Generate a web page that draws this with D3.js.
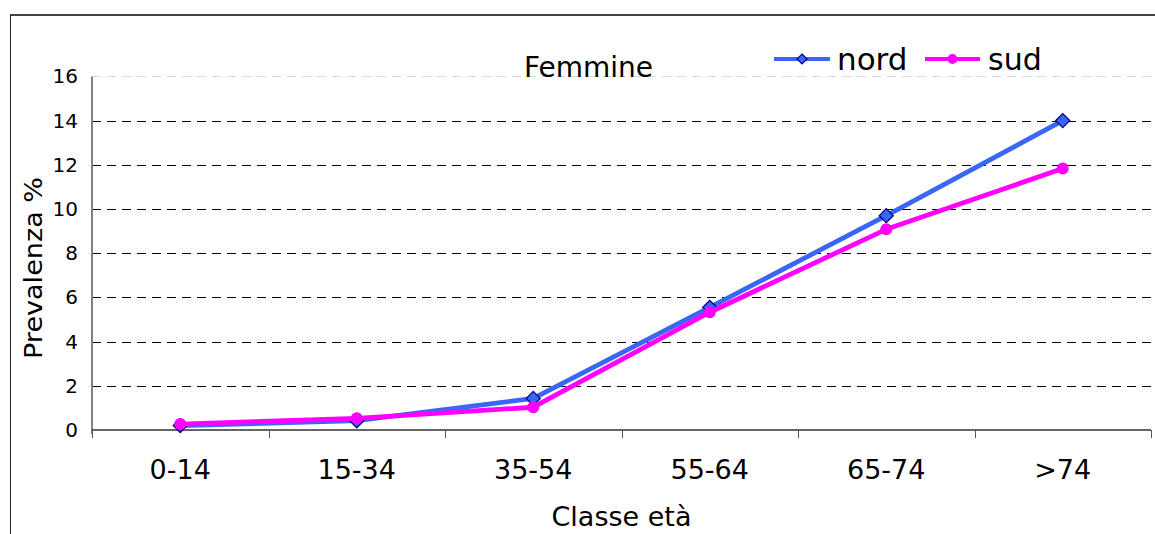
<!DOCTYPE html>
<html>
<head>
<meta charset="utf-8">
<script src="https://cdn.jsdelivr.net/npm/d3@7"></script>
<style>
  html, body { margin: 0; padding: 0; background: #fff; }
  svg { display: block; font-family: "DejaVu Sans", Verdana, sans-serif; }
</style>
</head>
<body>
<svg id="chart" width="1155" height="534"></svg>
<script>
const categories = ["0-14", "15-34", "35-54", "55-64", "65-74", ">74"];
const nordValues = [0.2, 0.42, 1.43, 5.55, 9.7, 14.0];
const sudValues  = [0.27, 0.53, 1.03, 5.33, 9.08, 11.83];
const yTicks = [0, 2, 4, 6, 8, 10, 12, 14, 16];
const seriesNames = ["nord", "sud"];
const titleText = "Femmine";
const xTitle = "Classe età";
const yTitle = "Prevalenza %";

(function () {
const svg = d3.select("#chart");
const W = 1155, H = 534;
const pLeft = 92, pRight = 1151, pTop = 76.4, pBottom = 430;

const x = d3.scaleBand().domain(categories).range([pLeft, pRight]).padding(0);
const y = d3.scaleLinear().domain([0, 16]).range([pBottom, pTop]);

// outer border (top and left)
svg.append("line").attr("x1", 10).attr("x2", W).attr("y1", 15).attr("y2", 15)
  .attr("stroke", "#444").attr("stroke-width", 2);
svg.append("line").attr("x1", 10.5).attr("x2", 10.5).attr("y1", 15).attr("y2", H)
  .attr("stroke", "#222").attr("stroke-width", 1);

// gridlines
svg.append("g").selectAll("line").data(yTicks.filter(d => d > 0)).join("line")
  .attr("x1", pLeft).attr("x2", pRight)
  .attr("y1", d => Math.round(y(d)) + 0.5).attr("y2", d => Math.round(y(d)) + 0.5)
  .attr("stroke", d => d === 16 ? "#d8d8d8" : "#000")
  .attr("stroke-width", 1)
  .attr("stroke-dasharray", "9,6");

// y axis line
svg.append("line").attr("x1", pLeft).attr("x2", pLeft).attr("y1", pTop).attr("y2", pBottom + 4)
  .attr("stroke", "#808080").attr("stroke-width", 2);

// x axis
const xAxis = d3.axisBottom(x).tickSize(0).tickFormat("");
const gx = svg.append("g").attr("transform", `translate(0,${pBottom})`).call(xAxis);
gx.select(".domain").remove();
svg.append("line").attr("x1", pLeft).attr("x2", pRight).attr("y1", pBottom).attr("y2", pBottom)
  .attr("stroke", "#333").attr("stroke-width", 1.5);
const boundaries = categories.map(c => x(c)).concat([x(categories[categories.length - 1]) + x.bandwidth()]);
svg.append("g").selectAll("line").data(boundaries).join("line")
  .attr("x1", d => Math.round(d) + 0.5).attr("x2", d => Math.round(d) + 0.5)
  .attr("y1", pBottom).attr("y2", pBottom + 8)
  .attr("stroke", "#555").attr("stroke-width", 1);

// x tick labels
svg.append("g").selectAll("text").data(categories).join("text")
  .attr("x", d => x(d) + x.bandwidth() / 2)
  .attr("y", 479)
  .attr("text-anchor", "middle")
  .attr("font-size", 27)
  .attr("fill", "#000")
  .text(d => d);

// y tick labels
const yAxis = d3.axisLeft(y).tickValues(yTicks).tickSize(0).tickPadding(14);
const gy = svg.append("g").attr("transform", `translate(${pLeft},0)`).call(yAxis);
gy.select(".domain").remove();
gy.selectAll("text").attr("font-size", 20).attr("fill", "#000")
  .attr("font-family", "DejaVu Sans, Verdana, sans-serif");

// axis titles
svg.append("text").attr("x", 621.5).attr("y", 525.5).attr("text-anchor", "middle")
  .attr("font-size", 27).attr("fill", "#000").text(xTitle);
svg.append("text")
  .attr("transform", "translate(42,268) rotate(-90)")
  .attr("text-anchor", "middle")
  .attr("font-size", 24)
  .attr("textLength", 182).attr("lengthAdjust", "spacingAndGlyphs")
  .attr("fill", "#000").text(yTitle);

// chart title
svg.append("text").attr("x", 588.5).attr("y", 76.5).attr("text-anchor", "middle")
  .attr("font-size", 28).attr("fill", "#000").text(titleText);

// series
const colors = { nord: "#3A66F5", sud: "#FF00FF" };
const line = d3.line().x((d, i) => x(categories[i]) + x.bandwidth() / 2).y(d => y(d));
const diamond = (cx, cy, r) => `M${cx},${cy - r}L${cx + r},${cy}L${cx},${cy + r}L${cx - r},${cy}Z`;

// nord
svg.append("path").datum(nordValues).attr("d", line)
  .attr("fill", "none").attr("stroke", colors.nord).attr("stroke-width", 4.8)
  .attr("stroke-linejoin", "round");
svg.append("g").selectAll("path").data(nordValues).join("path")
  .attr("d", (d, i) => diamond(x(categories[i]) + x.bandwidth() / 2, y(d), 7))
  .attr("fill", colors.nord).attr("stroke", "#000080").attr("stroke-width", 1.3);

// sud
svg.append("path").datum(sudValues).attr("d", line)
  .attr("fill", "none").attr("stroke", colors.sud).attr("stroke-width", 4.8)
  .attr("stroke-linejoin", "round");
svg.append("g").selectAll("circle").data(sudValues).join("circle")
  .attr("cx", (d, i) => x(categories[i]) + x.bandwidth() / 2)
  .attr("cy", d => y(d)).attr("r", 6)
  .attr("fill", colors.sud);

// legend
const legendY = 59;
const legend = [
  { name: seriesNames[0], x1: 774, x2: 830, tx: 837, size: 31 },
  { name: seriesNames[1], x1: 925, x2: 980, tx: 988, size: 30 }
];
legend.forEach(l => {
  svg.append("line").attr("x1", l.x1).attr("x2", l.x2).attr("y1", legendY).attr("y2", legendY)
    .attr("stroke", colors[l.name]).attr("stroke-width", 4);
  const cx = (l.x1 + l.x2) / 2;
  if (l.name === "nord") {
    svg.append("path").attr("d", diamond(cx, legendY, 5))
      .attr("fill", colors.nord).attr("stroke", "#000080").attr("stroke-width", 1.2);
  } else {
    svg.append("circle").attr("cx", cx).attr("cy", legendY).attr("r", 5).attr("fill", colors.sud);
  }
  svg.append("text").attr("x", l.tx).attr("y", 70).attr("font-size", l.size)
    .attr("fill", "#000").text(l.name);
});
})();
</script>
</body>
</html>
